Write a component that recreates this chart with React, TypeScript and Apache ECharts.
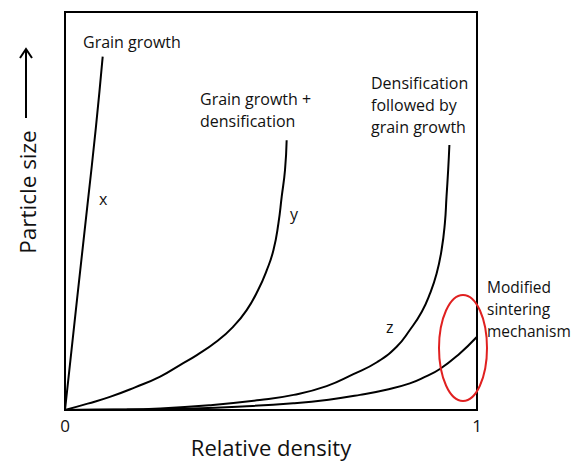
import React, { useEffect, useRef } from "react";
import * as echarts from "echarts";

const grainGrowth: [number, number][] = [
  [0, 0], [0.029, 0.276], [0.055, 0.52], [0.075, 0.71], [0.0915, 0.888],
];
const grainPlusDens: [number, number][] = [
  [0, 0], [0.055, 0.016], [0.109, 0.033], [0.17, 0.057], [0.231, 0.084], [0.279, 0.113],
  [0.32, 0.138], [0.368, 0.172], [0.408, 0.209], [0.441, 0.251], [0.469, 0.302],
  [0.49, 0.352], [0.506, 0.402], [0.518, 0.469], [0.526, 0.536], [0.534, 0.603], [0.538, 0.678],
];
const densThenGrain: [number, number][] = [
  [0, 0], [0.12, 0.001], [0.231, 0.004], [0.35, 0.012], [0.473, 0.025], [0.555, 0.038],
  [0.635, 0.06], [0.7, 0.09], [0.757, 0.12], [0.805, 0.159], [0.837, 0.201], [0.866, 0.247],
  [0.886, 0.293], [0.902, 0.343], [0.914, 0.402], [0.922, 0.469], [0.926, 0.536],
  [0.93, 0.603], [0.933, 0.666],
];
const modified: [number, number][] = [
  [0, 0], [0.15, 0.001], [0.311, 0.004], [0.43, 0.009], [0.554, 0.017], [0.64, 0.026],
  [0.716, 0.038], [0.78, 0.051], [0.837, 0.067], [0.875, 0.084], [0.91, 0.103],
  [0.955, 0.139], [1.0, 0.184],
];
const xTickLabels = ["0", "1"];

const FONT = "'Open Sans', 'Noto Sans', sans-serif";

export default function App() {
  const ref = useRef<HTMLDivElement>(null);
  useEffect(() => {
    if (!ref.current) return;
    const chart = echarts.init(ref.current, undefined, { renderer: "svg" });
    const lineStyle = { color: "#000", width: 2 };
    const mk = (name: string, data: [number, number][]) => ({
      name,
      type: "line",
      data,
      smooth: 0.5,
      showSymbol: false,
      symbol: "none",
      lineStyle,
      z: 3,
    });
    const txt = (x: number, y: number, text: string, size = 16, extra: any = {}) => ({
      type: "text",
      x,
      y,
      style: { text, fill: "#111", font: `${size}px ${FONT}`, lineHeight: 22, ...extra },
      z: 10,
    });
    chart.setOption({
      animation: false,
      backgroundColor: "#fff",
      grid: {
        left: 65, top: 12, width: 412, height: 398, show: true,
        borderColor: "#000", borderWidth: 2, backgroundColor: "transparent",
      },
      xAxis: {
        type: "value", min: 0, max: 1, interval: 1,
        axisLine: { show: true, lineStyle: { color: "#000", width: 2 } },
        axisTick: { show: false },
        splitLine: { show: false },
        axisLabel: {
          color: "#111", fontSize: 17, fontFamily: FONT, margin: 7,
          formatter: (v: number) => (v === 0 ? xTickLabels[0] : v === 1 ? xTickLabels[1] : ""),
        },
      },
      yAxis: {
        type: "value", min: 0, max: 1,
        axisLine: { show: true, lineStyle: { color: "#000", width: 2 } },
        axisTick: { show: false },
        splitLine: { show: false },
        axisLabel: { show: false },
      },
      series: [
        mk("Grain growth", grainGrowth),
        mk("Grain growth + densification", grainPlusDens),
        mk("Densification followed by grain growth", densThenGrain),
        mk("Modified sintering mechanism", modified),
      ],
      graphic: [
        txt(83, 31, "Grain growth"),
        txt(200, 88, "Grain growth +\ndensification"),
        txt(371, 72, "Densification\nfollowed by\ngrain growth"),
        txt(487, 276, "Modified\nsintering\nmechanism", 15.5),
        txt(99, 188, "x"),
        txt(290, 203, "y"),
        txt(386, 316, "z"),
        txt(271, 447, "Relative density", 22, { align: "center", verticalAlign: "middle" }),
        {
          type: "text", x: 27, y: 192, rotation: Math.PI / 2,
          style: { text: "Particle size", fill: "#111", font: `22.5px ${FONT}`, align: "center", verticalAlign: "middle" },
        },
        { type: "line", shape: { x1: 26, y1: 118, x2: 26, y2: 50 }, style: { stroke: "#000", lineWidth: 2 } },
        { type: "polyline", shape: { points: [[20, 58], [26, 49], [32, 58]] }, style: { stroke: "#000", lineWidth: 2, fill: "none" } },
        {
          type: "ellipse", shape: { cx: 463, cy: 348, rx: 24, ry: 53 },
          style: { stroke: "#e02020", lineWidth: 2, fill: "none" }, z: 12,
        },
      ],
    });
    return () => chart.dispose();
  }, []);
  return <div ref={ref} style={{ position: "fixed", left: 0, top: 0, width: 576, height: 462 }} />;
}
